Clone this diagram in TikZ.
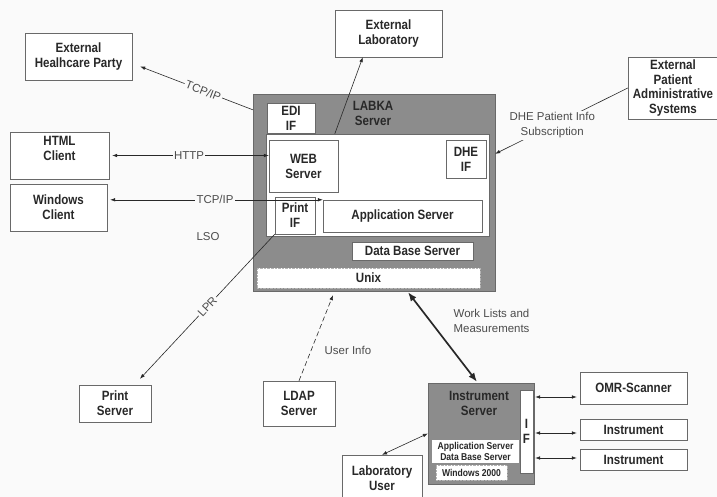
\documentclass[tikz,border=0pt]{standalone}
\usepackage{fontspec}
\setmainfont{Liberation Sans}
\newfontfamily\boxfont{Liberation Sans}[FakeStretch=0.86]
\usetikzlibrary{arrows.meta,calc}

\definecolor{paper}{RGB}{250,250,250}
\definecolor{shade}{RGB}{140,140,140}
\definecolor{ink}{RGB}{40,40,40}
\definecolor{rim}{RGB}{105,105,105}

\begin{document}
\begin{tikzpicture}[x=1bp,y=-1bp,
  wh/.style 2 args={minimum width=#1bp, minimum height=#2bp},
  box/.style={draw=rim, fill=white, text=ink, align=center, inner sep=0pt,
    font=\boxfont\bfseries\fontsize{13.5}{15}\selectfont},
  smallbox/.style={box, font=\boxfont\bfseries\fontsize{10}{11}\selectfont},
  shadebox/.style={draw=rim, fill=shade, inner sep=0pt},
  boxtext/.style={text=ink, align=center, inner sep=0pt,
    font=\boxfont\bfseries\fontsize{13.5}{15}\selectfont},
  lbl/.style={text=black!70, fill=paper, inner sep=1.5pt, align=center,
    font=\fontsize{11.5}{15}\selectfont},
  link/.style={draw=ink, line width=0.6pt, >={Latex[length=5bp,width=3.6bp]}},
]
  \path[use as bounding box, fill=paper] (0,0) rectangle (717,497);
  \clip (0,0) rectangle (717,497);

  % Outside parties
  \node[box, wh={107}{47}] (ehp) at (78.5,56.5) {External\\Healhcare Party};
  \node[box, wh={107}{47}] (elab) at (388.5,33.5) {External\\Laboratory};
  \node[box, wh={90}{62}] (epas) at (673,88) {External\\Patient\\Administrative\\Systems};
  \node[box, wh={99}{47}, text depth=14bp] (html) at (59.5,155.5) {HTML\\Client};
  \node[box, wh={97}{47}] (winc) at (58.5,207.5) {Windows\\Client};

  % LABKA server
  \node[shadebox, wh={242}{197}] (labka) at (374,192.5) {};
  \node[box, wh={48}{30}] (edi) at (291,118) {EDI\\IF};
  \node[boxtext] (labkatxt) at (373,113) {LABKA\\Server};
  \node[box, wh={223}{102}] (core) at (377.5,185) {};
  \node[box, wh={69}{52}] (web) at (303.5,166) {WEB\\Server};
  \node[box, wh={40}{38}] (dhe) at (466,159) {DHE\\IF};
  \node[box, wh={40}{37}] (printif) at (295,215.5) {Print\\IF};
  \node[box, wh={159}{32}] (app) at (402.5,216) {Application Server};
  \node[box, wh={121}{18}] (db) at (412.5,251) {Data Base Server};
  \node[box, wh={223}{20}, draw=rim!50, densely dotted] (unix) at (368.5,278) {Unix};
  \node[lbl] (lso) at (208,237) {LSO};

  % Servers below
  \node[box, wh={72}{37}] (psrv) at (115,403.5) {Print\\Server};
  \node[box, wh={72}{45}] (ldap) at (299,403.5) {LDAP\\Server};

  % Instrument server
  \node[shadebox, wh={106}{101}] (isrv) at (481,433.5) {};
  \node[boxtext] (isrvtxt) at (479,403) {Instrument\\Server};
  \node[box, wh={13}{83}] (ifbar) at (526.5,431.5) {I\\F};
  \node[smallbox, wh={87}{23}, draw=none] (appdb) at (475.5,451.5) {Application Server\\Data Base Server};
  \node[smallbox, wh={71}{15}, draw=rim!50, densely dotted] (win2k) at (471.5,472.5) {Windows 2000};
  \node[box, wh={107}{32}] (omr) at (633.5,388) {OMR-Scanner};
  \node[box, wh={107}{21}] (inst1) at (633.5,429.5) {Instrument};
  \node[box, wh={107}{21}] (inst2) at (633.5,459.5) {Instrument};
  \node[box, wh={80}{46}] (labuser) at (382,478) {Laboratory\\User};

  % Connections of the LABKA server
  \draw[link,->] ($(labka.north west)+(0,16)$)
    -- node[lbl, sloped, pos=0.44] (tcpa) {TCP/IP} ($(ehp.east)+(8,10)$);
  \draw[link,->] ($(core.north west)+(69,0)$) -- ($(elab.south west)+(28,0)$);
  \draw[link,<->, shorten <=3bp] (html.east)
    -- node[lbl] (http) {HTTP} (web.west |- html.east);
  \draw[link,<->, shorten <=3bp] (winc.east |- app.north west)
    -- node[lbl] (tcpb) {TCP/IP} (app.north west);
  \draw[link,->] (epas.west)
    -- node[lbl, pos=0.57] (dhetxt) {DHE Patient Info\\Subscription} ($(labka.north east)+(0,60)$);
  \draw[link,->] (printif.south west)
    -- node[lbl, sloped, pos=0.5] (lpr) {LPR} ($(psrv.north)+(25,-6)$);
  \draw[link,->,dash pattern=on 5bp off 3bp] (ldap.north)
    -- node[lbl, pos=0.35, anchor=west, xshift=12bp] (uinfo) {User Info} ($(labka.south)+(-41,4)$);

  % Work lists to the instrument server (thick)
  \draw[link,<->, line width=1.7pt, >={Latex[length=9bp,width=7bp]}]
    ($(labka.south)+(34,1)$) -- ($(isrv.north)+(-4,-1)$);
  \node[lbl, align=left, anchor=west] (wlist) at (452,321) {Work Lists and\\Measurements};

  % Instruments on the IF
  \foreach \dev/\dy in {omr/9, inst1/3.5, inst2/-1.5} {
    \coordinate (\dev-in) at ($(\dev.west)+(0,\dy)$);
    \draw[link,<->, shorten <=2bp, shorten >=3bp] (ifbar.east |- \dev-in) -- (\dev-in);
  }
  \draw[link,<->] (labuser.north) -- (isrv.west);

\end{tikzpicture}
\end{document}
